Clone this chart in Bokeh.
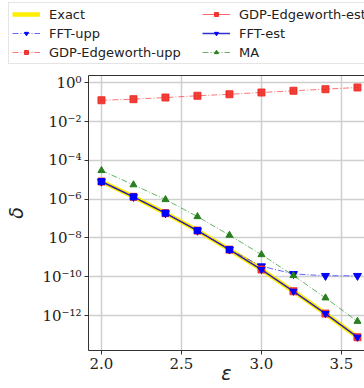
from bokeh.plotting import figure
from bokeh.models import (FixedTicker, NumeralTickFormatter, CustomJSTickFormatter,
                          Legend, LegendItem, LinearAxis, Range1d)
from bokeh.layouts import column
from bokeh.embed import file_html
from bokeh.resources import INLINE

eps = [2.0, 2.2, 2.4, 2.6, 2.8, 3.0, 3.2, 3.4, 3.6]
exact = [8.1e-6, 1.32e-6, 1.9e-7, 2.4e-8, 2.5e-9, 2.35e-10, 1.78e-11, 1.26e-12, 7.6e-14]
gdp_est = [8.1e-6, 1.32e-6, 1.9e-7, 2.4e-8, 2.5e-9, 2.35e-10, 1.78e-11, 1.26e-12, 7.6e-14]
fft_est = [8.1e-6, 1.32e-6, 1.9e-7, 2.4e-8, 2.5e-9, 2.35e-10, 1.78e-11, 1.26e-12, 7.6e-14]
fft_upp = [8.1e-6, 1.32e-6, 1.9e-7, 2.4e-8, 2.55e-9, 3.5e-10, 1.4e-10, 1.12e-10, 1.12e-10]
gdp_upp = [0.126, 0.143, 0.174, 0.214, 0.257, 0.316, 0.389, 0.468, 0.575]
ma = [3.0e-5, 5.5e-6, 9.5e-7, 1.26e-7, 1.38e-8, 1.38e-9, 1.15e-10, 8.1e-12, 5.0e-13]

labels = ["Exact", "FFT-upp", "GDP-Edgeworth-upp", "GDP-Edgeworth-est", "FFT-est", "MA"]
y_ticks = [1e0, 1e-2, 1e-4, 1e-6, 1e-8, 1e-10, 1e-12]
x_ticks = [2.0, 2.5, 3.0, 3.5]

DD = "6 2 1 2"
YEL = "#ffee00"
RED = "#ee2a24"
GRN = "#2a7f1f"


def draw_series(fig, xs, ys_list):
    e, fu, gu, ge, fe, m = ys_list
    r = {}
    r["Exact"] = [fig.line(xs, e, line_color=YEL, line_width=4.5)]
    r["FFT-upp"] = [fig.line(xs, fu, line_color="blue", line_alpha=0.6, line_width=1, line_dash=DD),
                    fig.scatter(xs, fu, marker="inverted_triangle", size=8, color="blue")]
    r["GDP-Edgeworth-upp"] = [fig.line(xs, gu, line_color="red", line_alpha=0.55, line_width=1, line_dash=DD),
                              fig.scatter(xs, gu, marker="square", size=7, color=RED, alpha=0.9)]
    r["GDP-Edgeworth-est"] = [fig.line(xs, ge, line_color="red", line_alpha=0.6, line_width=1),
                              fig.scatter(xs, ge, marker="square", size=7, color=RED, alpha=0.9)]
    r["FFT-est"] = [fig.line(xs, fe, line_color="#1a1acc", line_alpha=0.9, line_width=1.5),
                    fig.scatter(xs, fe, marker="inverted_triangle", size=7, color="blue")]
    r["MA"] = [fig.line(xs, m, line_color="green", line_alpha=0.6, line_width=1, line_dash=DD),
               fig.scatter(xs, m, marker="triangle", size=7, color=GRN)]
    return r


W = 364

# ---------- main plot ----------
p = figure(width=W, height=322, y_axis_type="log", output_backend="svg",
           toolbar_location=None, x_range=Range1d(1.919, 3.644),
           y_range=Range1d(1.57e-14, 2.38),
           min_border_left=88, min_border_right=0, min_border_top=9, min_border_bottom=38)
p.frame_align = False
p.outline_line_color = None
for g in (p.xgrid, p.ygrid):
    g.grid_line_color = "#cfcfcf"
    g.grid_line_width = 1.5

draw_series(p, eps, [exact, fft_upp, gdp_upp, gdp_est, fft_est, ma])
p.scatter(eps[:5], fft_est[:5], marker="square", size=6, color="blue")

p.yaxis.ticker = FixedTicker(ticks=y_ticks)
p.yaxis.formatter = CustomJSTickFormatter(code="""
const sup = {'0':'\u2070','1':'\u00b9','2':'\u00b2','3':'\u00b3','4':'\u2074','5':'\u2075',
             '6':'\u2076','7':'\u2077','8':'\u2078','9':'\u2079','-':'\u207b'};
const e = Math.round(Math.log10(tick));
return '10' + String(e).split('').map(c => sup[c]).join('');
""")
p.xaxis.ticker = FixedTicker(ticks=x_ticks)
p.xaxis.formatter = NumeralTickFormatter(format="0.0")
for ax in (p.xaxis, p.yaxis):
    ax.major_label_text_font = "DejaVu Serif"
    ax.major_label_text_font_size = "15px"
    ax.major_label_text_color = "#222222"
    ax.minor_tick_line_color = None
    ax.major_tick_out = 4
    ax.major_tick_in = 0
    ax.axis_line_color = "#333333"
    ax.major_tick_line_color = "#333333"
    ax.axis_label_text_font_style = "italic"
    ax.axis_label_text_font_size = "19px"
    ax.axis_label_text_font = "DejaVu Sans"
    ax.axis_label_text_color = "#222222"
p.yaxis.axis_label = "δ"
p.xaxis.axis_label = "ε"
p.yaxis.major_label_standoff = 3
p.xaxis.major_label_standoff = 3
p.yaxis.axis_label_standoff = 12
p.xaxis.axis_label_standoff = -10

top = LinearAxis(major_tick_line_color=None, minor_tick_line_color=None,
                 major_label_text_font_size="0px", axis_line_color="#333333",
                 major_label_standoff=0)
top.ticker = FixedTicker(ticks=[])
p.add_layout(top, "above")

# ---------- legend strip ----------
lf = figure(width=W, height=66, output_backend="svg", toolbar_location=None,
            x_range=Range1d(0, 1), y_range=Range1d(0, 1),
            x_axis_location=None, y_axis_location=None,
            min_border_left=0, min_border_right=0, min_border_top=0, min_border_bottom=0)
lf.frame_align = False
lf.outline_line_color = None
lf.xgrid.visible = False
lf.ygrid.visible = False
hid = [5.0, 6.0]
rr = draw_series(lf, hid, [[5.0, 6.0]] * 6)

items = [LegendItem(label=lab, renderers=rr[lab]) for lab in labels]
leg = Legend(items=items, location=(8, 2), nrows=3, orientation="vertical",
             label_text_font="DejaVu Sans", label_text_font_size="13px",
             label_text_color="#222222",
             glyph_width=28, glyph_height=10, label_height=16, spacing=3,
             label_standoff=9, label_width=150, padding=3, margin=0,
             border_line_color="#cccccc", border_line_width=1,
             background_fill_alpha=0.8)
lf.add_layout(leg, "center")

open("out.html", "w").write(file_html(column(lf, p, spacing=0), INLINE))
